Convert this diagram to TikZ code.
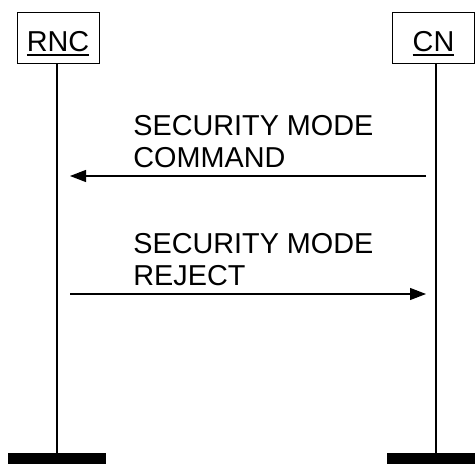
\documentclass[tikz,border=0pt]{standalone}
\usepackage{fontspec}
\setmainfont{Liberation Sans}
\usepackage{tikz}
\usetikzlibrary{positioning}
\usetikzlibrary{arrows.meta, shapes}
\newcommand{\entlabel}[1]{\setbox0\hbox{#1}\rlap{\rule[-2.4pt]{\wd0}{1pt}}\box0}

\begin{document}
\begin{tikzpicture}[
    x=0.5pt, y=-0.5pt,
    font=\fontsize{14.4}{16}\selectfont,% text size
       box/.style = {draw, line width=0.5pt, minimum width=41pt, minimum height=25.5pt, inner sep=0pt, text height=13.2pt, text depth=0pt},% entity boxes
       bar/.style = {fill=black, minimum width=49pt, minimum height=5.5pt, inner sep=0pt},% lifeline ends
      life/.style = {line width=0.7pt},
       msg/.style = {line width=0.6pt, -{Triangle[length=8pt,width=6pt]}},
       lbl/.style = {align=left, anchor=base west, inner sep=0pt}
    ]
    \useasboundingbox (0,0) rectangle (475,464);
    \clip (0,0) rectangle (475,464);
    \node (rnc) [box] at (58,38.5) {\entlabel{RNC}};
    \node (cn) [box] at (433.5,38.5) {\entlabel{CN}};
    \node (rncend) [bar] at (57,458.5) {};
    \node (cnend) [bar] at (436,458.5) {};
    \draw[life] (rnc.south -| rncend) -- (rncend.north);
    \draw[life] (cn.south -| cnend) -- (cnend.north);
    % messages
    \coordinate (cmdfrom) at (426,176);
    \coordinate (cmdto) at (70,176);
    \coordinate (rejfrom) at (70,294);
    \coordinate (rejto) at (426,294);
    \draw[msg] (cmdfrom) -- (cmdto);
    \draw[msg] (rejfrom) -- (rejto);
    \node (cmdtext) [lbl] at (133,168) {SECURITY MODE\\COMMAND};
    \node (rejtext) [lbl] at (133,285) {SECURITY MODE\\REJECT};
\end{tikzpicture}
\end{document}
